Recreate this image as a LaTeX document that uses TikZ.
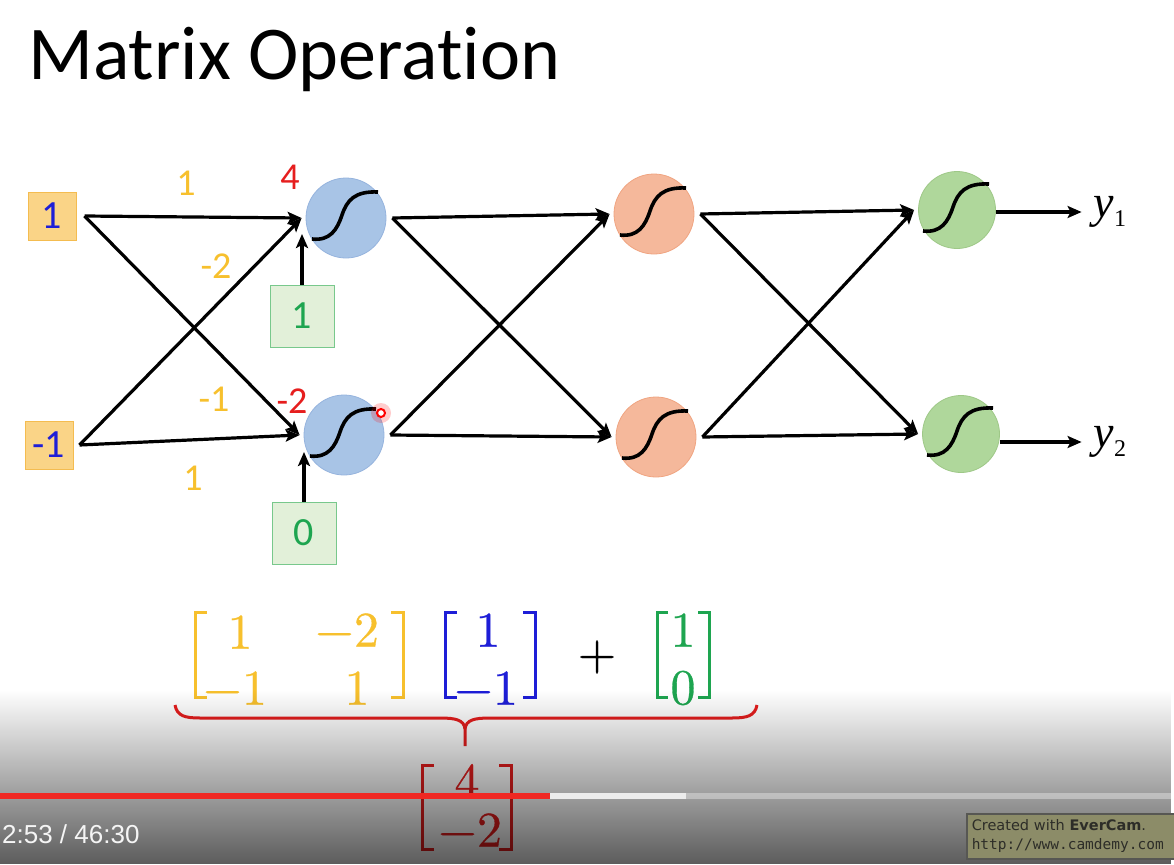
\documentclass[tikz,border=0pt]{standalone}
\usepackage{fontspec}
\setmainfont{Carlito}[Ligatures=NoCommon]
\newfontfamily\numfont{lmroman10-regular}[Extension=.otf, FakeBold=0.6]
\newfontfamily\timesfont{Liberation Serif}
\newfontfamily\ytfont{Liberation Sans}
\newfontfamily\wmfont{DejaVu Sans}
\newfontfamily\wmmono{DejaVu Sans Mono}
\usetikzlibrary{arrows.meta,fadings}

\definecolor{infill}{RGB}{250,212,135}
\definecolor{inedge}{RGB}{244,188,80}
\definecolor{inblue}{RGB}{30,30,215}
\definecolor{bfill}{RGB}{226,240,217}
\definecolor{bedge}{RGB}{120,200,140}
\definecolor{bgreen}{RGB}{30,165,80}
\definecolor{gold}{RGB}{247,192,45}
\definecolor{zred}{RGB}{230,30,30}
\definecolor{bluefill}{RGB}{168,196,230}
\definecolor{blueedge}{RGB}{150,180,222}
\definecolor{orangefill}{RGB}{245,184,155}
\definecolor{orangeedge}{RGB}{240,165,130}
\definecolor{greenfill}{RGB}{175,215,155}
\definecolor{greenedge}{RGB}{158,200,135}
\definecolor{ytred}{RGB}{240,40,35}
\definecolor{wmfill}{RGB}{140,140,104}
\definecolor{wmtext}{RGB}{45,45,40}

\tikzfading[name=ytfade, top color=transparent!100, middle color=transparent!82, bottom color=transparent!36]

\tikzset{
  sigmoid/.pic={
    \draw[line width=3.6pt] (-34,21) .. controls (-16,23) and (-9,12) .. (-4,-3)
      .. controls (1,-18) and (9,-27) .. (32,-26);
  }
}

\begin{document}
\begin{tikzpicture}[x=1pt, y=-1pt,
  conn/.style={-{Stealth[length=14pt,width=12pt,inset=3pt]}, line width=3.2pt},
  inbox/.style={draw=inedge, fill=infill, line width=1pt, minimum size=48pt, inner sep=0pt, text=inblue, font=\fontsize{40}{40}\selectfont},
  biasbox/.style={draw=bedge, fill=bfill, line width=1pt, minimum width=64pt, minimum height=62pt, inner sep=0pt, text=bgreen, font=\fontsize{40}{40}\selectfont},
  neuron/.style={circle, minimum size=80pt, inner sep=0pt, line width=0.8pt},
  wlab/.style={text=gold, font=\fontsize{38}{38}\selectfont},
  zlab/.style={text=zred, font=\fontsize{38}{38}\selectfont},
  num/.style={font=\numfont\fontsize{50}{50}\selectfont, inner sep=0pt},
  bracket/.style={line width=3pt},
]
  \useasboundingbox (0,0) rectangle (1174,864);
  \fill[white] (0,0) rectangle (1174,864);

  % title
  \node[anchor=base west, font=\fontsize{76}{76}\selectfont, inner sep=0pt] (title) at (28,80) {Matrix Operation};

  % inputs and biases
  \node[inbox] (i1) at (52,216) {1};
  \node[inbox] (i2) at (49,445) {-1};
  \node[biasbox] (b1) at (302,316) {1};
  \node[biasbox] (b2) at (304,533) {0};

  % neurons
  \node[neuron, draw=blueedge, fill=bluefill] (h1) at (346,218) {};
  \node[neuron, draw=blueedge, fill=bluefill] (h2) at (344,435) {};
  \node[neuron, draw=orangeedge, fill=orangefill] (o1) at (654,214) {};
  \node[neuron, draw=orangeedge, fill=orangefill] (o2) at (656,437) {};
  \node[neuron, draw=greenedge, fill=greenfill, minimum size=77pt] (g1) at (957,210) {};
  \node[neuron, draw=greenedge, fill=greenfill, minimum size=77pt] (g2) at (961,434) {};
  \foreach \n in {h1,h2,o1,o2,g1,g2}
    \pic at (\n) {sigmoid};

  % outputs
  \node[font=\timesfont\fontsize{46}{46}\selectfont, inner sep=0pt] (y1) at (1110,212) {\textit{y}\raisebox{-9pt}{\fontsize{24}{24}\selectfont 1}};
  \node[font=\timesfont\fontsize{46}{46}\selectfont, inner sep=0pt] (y2) at (1110,442) {\textit{y}\raisebox{-9pt}{\fontsize{24}{24}\selectfont 2}};

  % connector end points
  \coordinate (i1o) at ([xshift=8pt]i1.east);
  \coordinate (i2o) at ([xshift=6pt]i2.east);
  \foreach \n in {h1,h2,o1,o2,g1,g2} {
    \coordinate (\n i) at ([xshift=-4pt]\n.west);
    \coordinate (\n o) at ([xshift=6pt]\n.east);
  }

  % layer 1
  \draw[conn] (i1o) -- (h1i);
  \draw[conn] (i1o) -- (h2i);
  \draw[conn] (i2o) -- (h1i);
  \draw[conn] (i2o) -- (h2i);
  \draw[conn, shorten >=16pt] (b1.north) -- (b1.north |- h1.center);
  \draw[conn, shorten >=17pt] (b2.north) -- (b2.north |- h2.center);
  % layer 2
  \draw[conn] (h1o) -- (o1i);
  \draw[conn] (h1o) -- (o2i);
  \draw[conn] (h2o) -- (o1i);
  \draw[conn] (h2o) -- (o2i);
  % layer 3
  \draw[conn] (o1o) -- (g1i);
  \draw[conn] (o1o) -- (g2i);
  \draw[conn] (o2o) -- (g1i);
  \draw[conn] (o2o) -- (g2i);
  \draw[conn, shorten >=12pt] (g1.east |- y1) -- (y1.west);
  \draw[conn, shorten >=12pt] (g2.east |- y2) -- (y2.west);

  % weights and sums
  \node[wlab] (w1) at (186,183) {1};
  \node[wlab] (w2) at (216,266) {-2};
  \node[wlab] (w3) at (214,399) {-1};
  \node[wlab] (w4) at (193,478) {1};
  \node[zlab] (z1) at (290,177) {4};
  \node[zlab] (z2) at (292,401) {-2};

  % laser pointer
  \fill[red, opacity=0.2] (381,413) circle (10);
  \draw[red, line width=2pt, fill=white] (381,413) circle (4);

  % weight matrix
  \node[num, text=gold] (m11) at (240,632) {1};
  \node[num, text=gold] (m12) at (347,630) {−2};
  \node[num, text=gold] (m21) at (235,688) {−1};
  \node[num, text=gold] (m22) at (357,688) {1};
  \draw[bracket, gold] (207,612) -- (195,612) -- (195,697) -- (207,697);
  \draw[bracket, gold] (391,612) -- (403,612) -- (403,697) -- (391,697);
  % input vector
  \node[num, text=inblue] (x1) at (488,630) {1};
  \node[num, text=inblue] (x2) at (486,688) {−1};
  \draw[bracket, inblue] (457,612) -- (445,612) -- (445,697) -- (457,697);
  \draw[bracket, inblue] (523,612) -- (535,612) -- (535,697) -- (523,697);
  \node[num] (plus) at (597,657) {+};
  % bias vector
  \node[num, text=bgreen] (c1) at (683,630) {1};
  \node[num, text=bgreen] (c2) at (683,688) {0};
  \draw[bracket, bgreen] (668,612) -- (657,612) -- (657,697) -- (668,697);
  \draw[bracket, bgreen] (698,612) -- (709,612) -- (709,697) -- (698,697);

  % brace
  \draw[zred, line width=3pt] (175,705) .. controls (177,716) and (185,718) .. (200,718)
    -- (440,718) .. controls (456,718) and (464,720) .. (465,729) -- (465,746);
  \draw[zred, line width=3pt] (757,705) .. controls (755,716) and (747,718) .. (732,718)
    -- (490,718) .. controls (474,718) and (466,720) .. (465,729);

  % result
  \node[num, text=zred] (r1) at (467,781) {4};
  \node[num, text=zred] (r2) at (470,830) {−2};
  \draw[bracket, zred] (434,765) -- (422,765) -- (422,849) -- (434,849);
  \draw[bracket, zred] (499,765) -- (511,765) -- (511,849) -- (499,849);

  % player overlay
  \fill[black, path fading=ytfade] (0,690) rectangle (1174,864);
  \fill[ytred] (0,793) rectangle (550,799);
  \fill[white!85!gray] (550,793) rectangle (686,799);
  \fill[white, opacity=0.35] (686,793) rectangle (1174,799);
  \node[anchor=base west, text=white!92!gray, font=\ytfont\fontsize{26}{26}\selectfont, inner sep=0pt] (time) at (2,843) {2:53 / 46:30};

  % watermark
  \node[draw=wmtext!80, line width=1.5pt, fill=wmfill, anchor=north west, minimum width=210pt, minimum height=45pt,
    text=wmtext, align=left, inner sep=4pt, text width=200pt, font=\fontsize{14.5}{19}\selectfont] (wm) at (966,813)
    {\wmfont Created with \textbf{EverCam}.\\\wmmono http://www.camdemy.com};
\end{tikzpicture}
\end{document}
